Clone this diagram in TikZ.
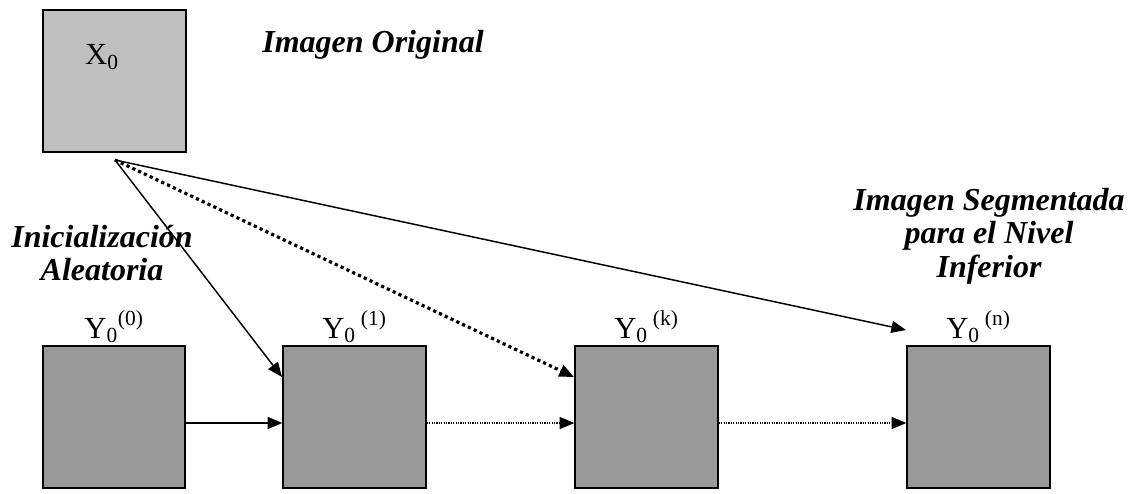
\documentclass[tikz,border=0pt]{standalone}
\usepackage{fontspec}
\setmainfont{Liberation Serif}
\usetikzlibrary{arrows.meta,positioning}

\begin{document}
\begin{tikzpicture}[x=.75pt,y=-.75pt,
  imgbox/.style={draw,line width=1.3pt,minimum width=107pt,minimum height=107pt,inner sep=0pt},
  lbl/.style={font=\fontsize{23}{26}\selectfont,inner sep=1pt},
  title/.style={font=\bfseries\itshape\fontsize{24}{25}\selectfont,align=center,inner sep=0pt},
  tip/.style={-{Triangle[length=11pt,width=9pt]}},
  flow/.style={tip,line width=1.1pt},
  dots/.style={tip,line width=2.4pt,dash pattern=on 2.4pt off 2.4pt},
  thin/.style={tip,line width=.8pt,dash pattern=on .9pt off .9pt}]
\path[use as bounding box] (0,0) rectangle (1135,493);
% original image
\node[imgbox,fill=black!25] (x0) at (114.5,81) {};
\node[lbl] (lx0) at (102,57) {X\textsubscript{0}};
\node[title] (torig) at (373,45) {Imagen Original};
% chain of segmentations
\node[imgbox,fill=black!40] (y0) at (114,417) {};
\node[imgbox,fill=black!40] (y1) at (354.5,417) {};
\node[imgbox,fill=black!40] (yk) at (646.5,417) {};
\node[imgbox,fill=black!40] (yn) at (978.5,417) {};
\node[lbl,above=0pt of y0] (ly0) {Y\textsubscript{0}\textsuperscript{(0)}};
\node[lbl,above=0pt of y1] (ly1) {Y\textsubscript{0}\,\textsuperscript{(1)}};
\node[lbl,above=0pt of yk] (lyk) {Y\textsubscript{0}\,\textsuperscript{(k)}};
\node[lbl,above=0pt of yn] (lyn) {Y\textsubscript{0}\,\textsuperscript{(n)}};
\node[title] (tini) at (102,253) {Inicialización\\Aleatoria};
\node[title] (tseg) at (989,236) {Imagen Segmentada\\para el Nivel\\Inferior};
% connectors
\coordinate (src) at (115,160);
\coordinate (in1) at (282,377);
\coordinate (ink) at (574,377);
\coordinate (inn) at (906,330);
\draw[flow] (src) -- (in1);
\draw[dots] (src) -- (ink);
\draw[flow] (src) -- (inn);
\draw[flow] (y0.east|-0,423) -- (y1.west|-0,423);
\draw[thin] (y1.east|-0,423) -- (yk.west|-0,423);
\draw[thin] (yk.east|-0,423) -- (yn.west|-0,423);
\end{tikzpicture}
\end{document}
